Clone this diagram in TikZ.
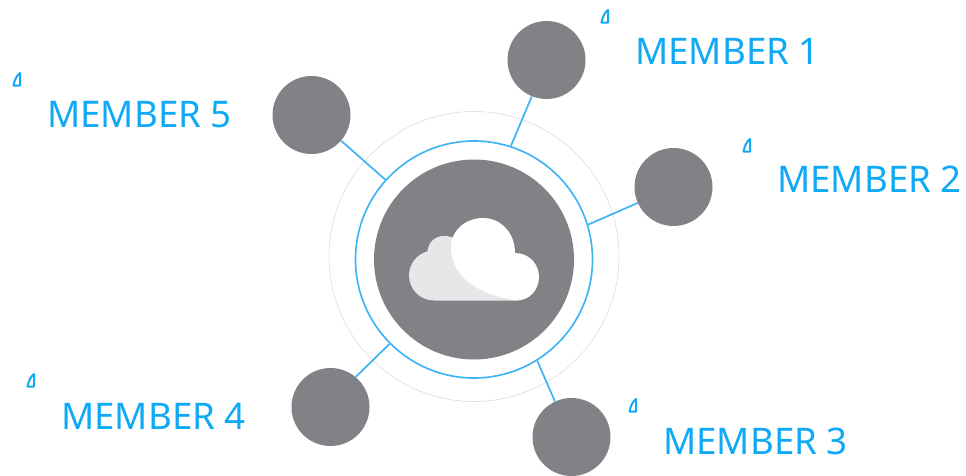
\documentclass[tikz,border=0pt]{standalone}
\usepackage{fontspec}
\setmainfont{Noto Sans}
\definecolor{diskgrey}{HTML}{808285}
\definecolor{skyblue}{HTML}{0FA9F5}
\definecolor{ringblue}{HTML}{3FB4F5}
\definecolor{cloudback}{HTML}{E6E7E8}
\definecolor{faintring}{HTML}{D8D9DA}
\tikzset{
  member/.style={circle,fill=diskgrey,draw=none,minimum size=58.5pt,inner sep=0pt},
  link/.style={draw=ringblue,line width=1.3pt},
  memberlabel/.style={text=skyblue,anchor=base west,inner sep=0pt,font=\fontsize{27.5pt}{30pt}\selectfont},
  tick/.style={draw=skyblue,line width=1.5pt,line join=round,fill=none}
}
\begin{document}
\begin{tikzpicture}[x=0.75pt,y=-0.75pt]
\useasboundingbox (0,0) rectangle (966,475);
\node[circle,draw=faintring,line width=0.4pt,minimum size=217.5pt,inner sep=0pt] (outer) at (474,256.5) {};
\node[circle,draw=ringblue,line width=1.25pt,minimum size=177.75pt,inner sep=0pt] (ring) at (474,259.5) {};
\node[circle,fill=diskgrey,minimum size=150pt,inner sep=0pt] (core) at (474,259.5) {};
\node[member] (m1) at (546.5,60) {};
\node[member] (m2) at (673.5,187) {};
\node[member] (m3) at (571.5,437) {};
\node[member] (m4) at (330.5,407) {};
\node[member] (m5) at (311.5,115) {};
\draw[link] (m1.248.7) -- (ring.72.4);
\draw[link] (m2.204) -- (ring.17.6);
\draw[link] (m3.115) -- (ring.-58.8);
\draw[link] (m4.50) -- (ring.225);
\draw[link] (m5.-41) -- (ring.138.9);
% cloud
\fill[cloudback] (517,300.5) -- (434,300.5) arc (90:255:25) .. controls (428.5,242) and (435,236) .. (444,236) .. controls (449,236) and (453,237) .. (456,240) -- (517,270) -- cycle;
\fill[white] (517,300.5) .. controls (487,296) and (451,282) .. (451,247) .. controls (451,230) and (466,218) .. (483,218) .. controls (501,218) and (515,233) .. (515,253) .. controls (529,253) and (539,264) .. (539,277) .. controls (539,290) and (529,300.5) .. (517,300.5) -- cycle;
% labels
\node[memberlabel] (l1) at (635,64) {MEMBER 1};
\node[memberlabel] (l2) at (777,192) {MEMBER 2};
\node[memberlabel] (l3) at (663,454) {MEMBER 3};
\node[memberlabel] (l4) at (61,429) {MEMBER 4};
\node[memberlabel] (l5) at (47,127) {MEMBER 5};
% ticks
\foreach \x/\y in {601.5/22.5,743.5/151.5,629.5/411.5,27.5/386.5,13.5/85.5}
  \draw[tick] (\x,\y) .. controls (\x+1,\y-5) and (\x+3,\y-10) .. (\x+6.5,\y-12.5) -- (\x+6.5,\y) -- cycle;
\end{tikzpicture}
\end{document}
